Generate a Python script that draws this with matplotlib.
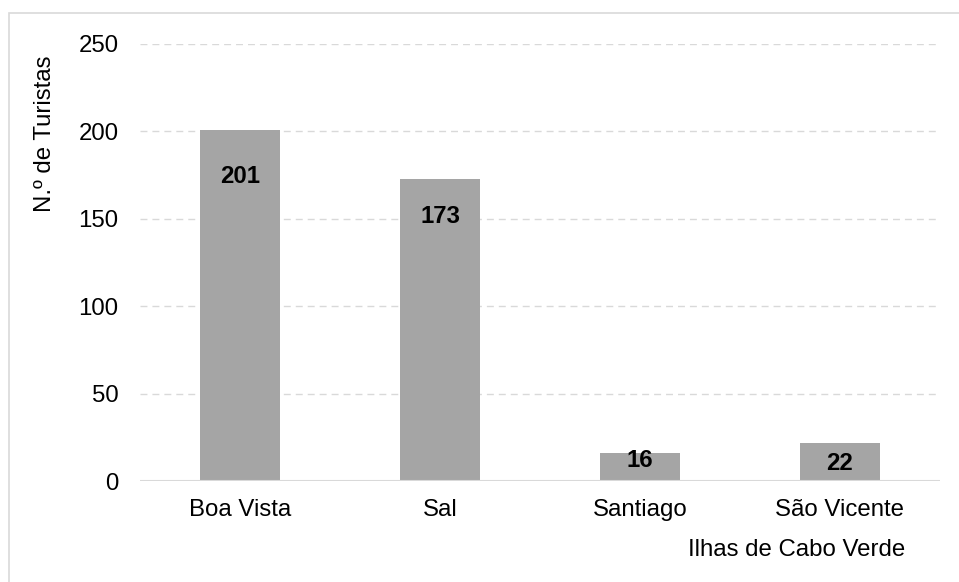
import matplotlib
matplotlib.use('Agg')
import matplotlib.pyplot as plt
from matplotlib.patches import Rectangle

ilhas = ['Boa Vista', 'Sal', 'Santiago', 'São Vicente']
turistas = [201, 173, 16, 22]
yticks = [0, 50, 100, 150, 200, 250]

# label offsets below bar top, in pixels (as placed in the original)
label_off = [47, 38, 7, 21]

W, H, dpi = 959, 582, 100
fs = 17.3
plt.rcParams['font.family'] = ['Liberation Sans', 'DejaVu Sans']

fig = plt.figure(figsize=(W / dpi, H / dpi), dpi=dpi)

# axes in pixel coords: left 140, right 940, top 44, bottom 481
ax = fig.add_axes([140 / W, 1 - 481 / H, 800 / W, (481 - 44) / H])

x = list(range(len(ilhas)))
ax.bar(x, turistas, width=0.4, color='#a5a5a5', zorder=3)
ax.set_xlim(-0.5, len(ilhas) - 0.5)
ax.set_ylim(0, 250)
ax.set_yticks(yticks)
ax.set_xticks(x)
ax.set_xticklabels(ilhas)
ax.tick_params(axis='both', length=0, labelsize=fs, colors='black')
ax.tick_params(axis='y', pad=15.5)
ax.tick_params(axis='x', pad=13)

for y in yticks[1:]:
    ax.axhline(y, color='#d9d9d9', lw=1, linestyle=(0, (5, 3.6)), zorder=1)
ax.axhline(0, color='#d9d9d9', lw=1.5, zorder=4)

for s in ax.spines.values():
    s.set_visible(False)

for xi, v, off in zip(x, turistas, label_off):
    ax.annotate(str(v), (xi, v), xytext=(0, -off * 72 / dpi), textcoords='offset points',
                ha='center', va='center', fontsize=fs, fontweight='bold', zorder=5)

fig.text(45 / W, 1 - 133.5 / H, 'N.º de Turistas', rotation=90, ha='center', va='center', fontsize=fs)
fig.text(905 / W, 1 - 550 / H, 'Ilhas de Cabo Verde', ha='right', va='center', fontsize=fs)

# outer chart border
fig.patches.append(Rectangle((9 / W, -0.1), 1.1, 1 - 13 / H + 0.1, transform=fig.transFigure,
                             fill=False, edgecolor='#d9d9d9', lw=1.2))

fig.savefig('out.png', dpi=dpi)
